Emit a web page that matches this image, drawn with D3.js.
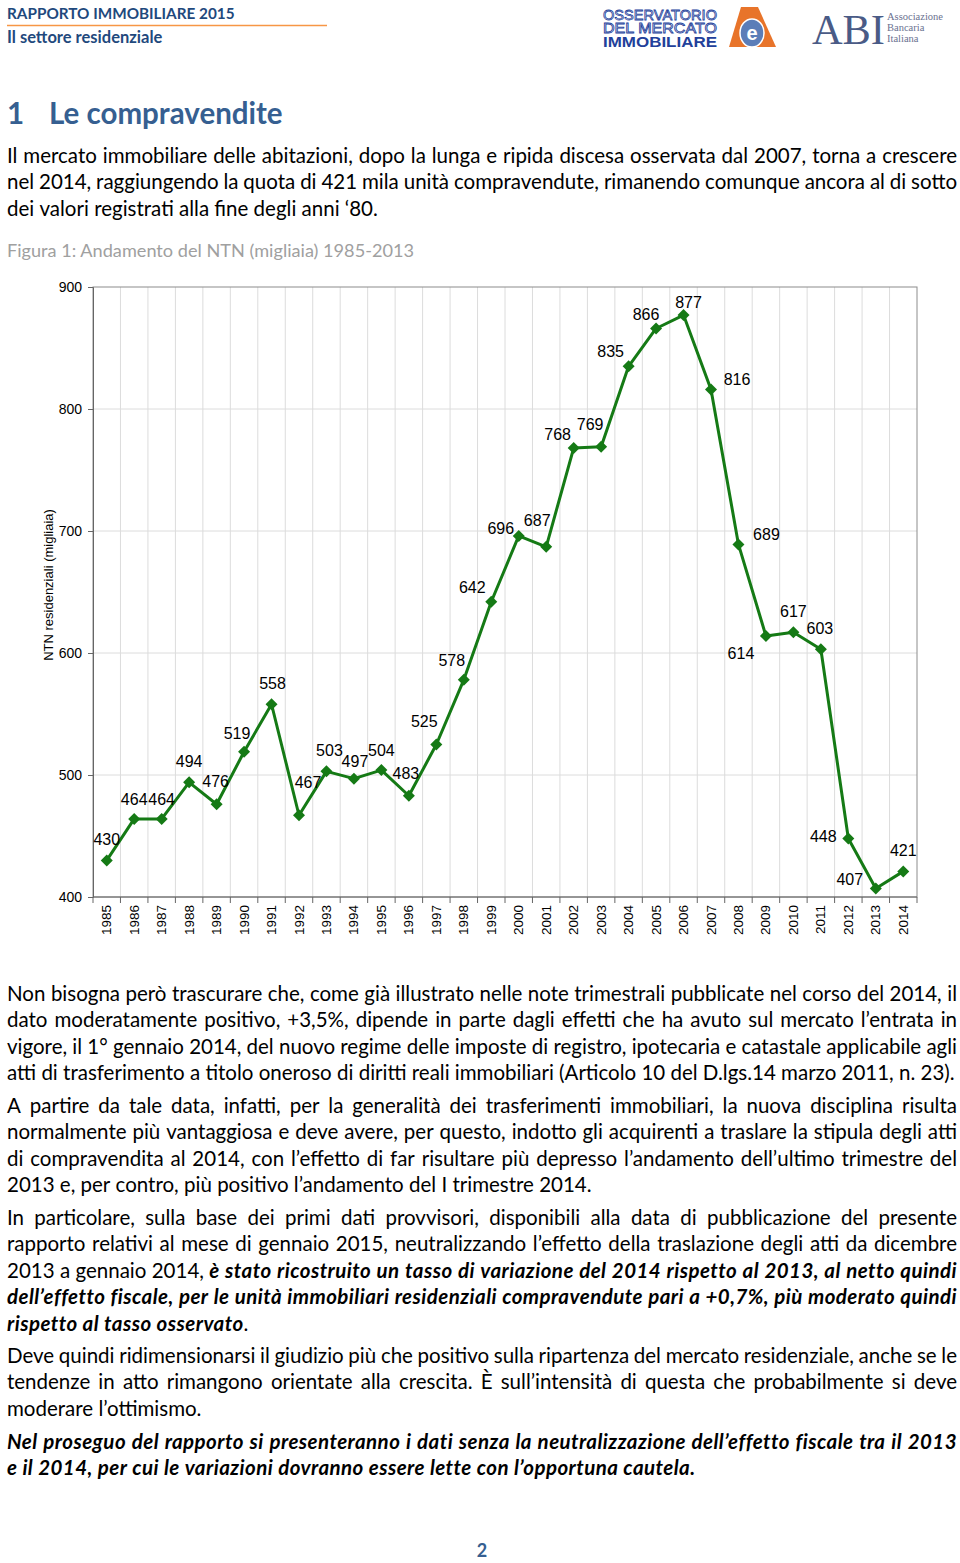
<!DOCTYPE html>
<html><head><meta charset="utf-8">
<script src="https://cdn.jsdelivr.net/npm/d3@7"></script>
<style>
html,body{margin:0;padding:0;background:#fff;}
svg{display:block;}
</style></head>
<body>
<svg id="page" width="960" height="1563"></svg>
<script>
// ---------- DATA ----------
const years = ["1985","1986","1987","1988","1989","1990","1991","1992","1993","1994","1995","1996","1997","1998","1999","2000","2001","2002","2003","2004","2005","2006","2007","2008","2009","2010","2011","2012","2013","2014"];
const ntn = [430,464,464,494,476,519,558,467,503,497,504,483,525,578,642,696,687,768,769,835,866,877,816,689,614,617,603,448,407,421];
const yTicks = [400,500,600,700,800,900];
// label placement (dx, dy from point) – style only
const labelOffsets = [[0,-21],[0,-20],[0,-20],[0,-21],[-1,-23],[-7,-18],[1,-21],[9,-33],[3,-21],[1,-17],[0,-20],[-3,-22],[-12,-23],[-12,-19],[-19,-14],[-18,-7],[-9,-26],[-16,-14],[-11,-22],[-18,-15],[-10,-14],[5,-13],[26,-10],[28,-10],[-25,17],[0,-21],[-1,-21],[-25,-2],[-26,-9],[0,-21]];

const svg = d3.select("#page");
const BLUE = "#1F497D", HBLUE = "#365F91";
const bodyFamily = "Lato, 'Open Sans', sans-serif";

// ---------- HEADER ----------
svg.append("text").attr("x",7).attr("y",19).attr("font-family",bodyFamily).attr("font-weight","bold")
  .attr("font-size",15.3).attr("fill",BLUE).text("RAPPORTO IMMOBILIARE 2015");
svg.append("line").attr("x1",7).attr("x2",327).attr("y1",25.5).attr("y2",25.5).attr("stroke","#F79646").attr("stroke-width",1.5);
svg.append("text").attr("x",7).attr("y",43).attr("font-family",bodyFamily).attr("font-weight","bold")
  .attr("font-size",16.5).attr("fill",BLUE).text("Il settore residenziale");

// logo OMI
const omi = svg.append("g").attr("font-family","'Liberation Sans Narrow','Liberation Sans',Arial,sans-serif").attr("fill","#22409A");
omi.append("text").attr("x",603).attr("y",19.5).attr("font-size",14.5).attr("textLength",114).attr("lengthAdjust","spacingAndGlyphs").attr("fill","none").attr("stroke","#22409A").attr("stroke-width",0.8).text("OSSERVATORIO");
omi.append("text").attr("x",603).attr("y",33).attr("font-size",14.5).attr("textLength",114).attr("lengthAdjust","spacingAndGlyphs").attr("fill","none").attr("stroke","#22409A").attr("stroke-width",0.8).text("DEL MERCATO");
omi.append("text").attr("x",603).attr("y",47).attr("font-size",14.5).attr("font-weight","bold").attr("textLength",114).attr("lengthAdjust","spacingAndGlyphs").text("IMMOBILIARE");
svg.append("path").attr("d","M741,7 L758,7 L776,47 L729,47 Z").attr("fill","#E8742A");
svg.append("ellipse").attr("cx",752).attr("cy",33).attr("rx",12).attr("ry",14).attr("fill","#5B7DB8").attr("stroke","#fff").attr("stroke-width",1.5);
svg.append("text").attr("x",752).attr("y",40).attr("text-anchor","middle").attr("font-family","Liberation Sans,Arial").attr("font-weight","bold").attr("font-size",20).attr("fill","#fff").text("e");
// logo ABI
svg.append("text").attr("x",812).attr("y",44).attr("font-family","'Liberation Serif','DejaVu Serif',serif").attr("font-size",42)
  .attr("textLength",73).attr("lengthAdjust","spacingAndGlyphs").attr("fill","#4A5B86").text("ABI");
const abiSmall = svg.append("g").attr("font-family","'Liberation Serif',serif").attr("font-size",10.5).attr("fill","#6A7190");
abiSmall.append("text").attr("x",887).attr("y",20).text("Associazione");
abiSmall.append("text").attr("x",887).attr("y",31).text("Bancaria");
abiSmall.append("text").attr("x",887).attr("y",42).text("Italiana");

// ---------- TEXT LAYOUT ----------
const measurer = svg.append("text").attr("x",-1000).attr("y",-1000);
function styleAttrs(sel, st, size){
  sel.attr("font-family",bodyFamily).attr("font-size",size)
     .attr("font-weight", st==="bi"?"bold":"normal")
     .attr("font-style", st==="bi"?"italic":"normal")
     .attr("letter-spacing", st==="bi"?"0.45px":"0px");
}
function measure(t, st, size){
  styleAttrs(measurer, st, size); measurer.text(t);
  return measurer.node().getComputedTextLength();
}
const calibLine = "atti di trasferimento a titolo oneroso di diritti reali immobiliari (Articolo 10 del D.lgs.14 marzo 2011, n. 23).";
const BODY = 100*948/measure(calibLine,"r",100);

function layoutLine(segs, x0, x1, baseline, justify, size, fill){
  const chars=[];
  segs.forEach(([st,t])=>{ for(const c of t) chars.push({c,st}); });
  const words=[]; let cur=null;
  chars.forEach(o=>{
    if(o.c===" "){ cur=null; return; }
    if(!cur){ cur=[]; words.push(cur); }
    const last=cur[cur.length-1];
    if(last && last.st===o.st) last.t+=o.c; else cur.push({st:o.st,t:o.c});
  });
  words.forEach(w=>{ w.width=0; w.forEach(r=>{ r.w=measure(r.t,r.st,size); w.width+=r.w; }); });
  const total=d3.sum(words,w=>w.width);
  const st0=words[0][0].st;
  const spaceW = measure("a a",st0,size)-measure("aa",st0,size);
  const gap = justify && words.length>1 ? (x1-x0-total)/(words.length-1) : spaceW;
  let x=x0;
  words.forEach(w=>{
    w.forEach(r=>{
      const tx=svg.append("text").attr("x",x).attr("y",baseline).attr("fill",fill||"#000").text(r.t);
      styleAttrs(tx,r.st,size);
      x+=r.w;
    });
    x+=gap;
  });
}

// heading
svg.append("text").attr("x",7).attr("y",124).attr("font-family",bodyFamily).attr("font-weight","bold").attr("font-size",29.5).attr("fill",HBLUE).text("1");
svg.append("text").attr("x",49).attr("y",124).attr("font-family",bodyFamily).attr("font-weight","bold").attr("font-size",29.5).attr("fill",HBLUE).text("Le compravendite");

const L=7, R=957;
const paragraphs = [
 {y:163, lines:[
  [[["r","Il mercato immobiliare delle abitazioni, dopo la lunga e ripida discesa osservata dal 2007, torna a crescere"]],true],
  [[["r","nel 2014, raggiungendo la quota di 421 mila unità compravendute, rimanendo comunque ancora al di sotto"]],true],
  [[["r","dei valori registrati alla fine degli anni ‘80."]],false]]},
 {y:1001, lines:[
  [[["r","Non bisogna però trascurare che, come già illustrato nelle note trimestrali pubblicate nel corso del 2014, il"]],true],
  [[["r","dato moderatamente positivo, +3,5%, dipende in parte dagli effetti che ha avuto sul mercato l’entrata in"]],true],
  [[["r","vigore, il 1° gennaio 2014, del nuovo regime delle imposte di registro, ipotecaria e catastale applicabile agli"]],true],
  [[["r",calibLine]],false]]},
 {y:1113, lines:[
  [[["r","A partire da tale data, infatti, per la generalità dei trasferimenti immobiliari, la nuova disciplina risulta"]],true],
  [[["r","normalmente più vantaggiosa e deve avere, per questo, indotto gli acquirenti a traslare la stipula degli atti"]],true],
  [[["r","di compravendita al 2014, con l’effetto di far risultare più depresso l’andamento dell’ultimo trimestre del"]],true],
  [[["r","2013 e, per contro, più positivo l’andamento del I trimestre 2014."]],false]]},
 {y:1225, lines:[
  [[["r","In particolare, sulla base dei primi dati provvisori, disponibili alla data di pubblicazione del presente"]],true],
  [[["r","rapporto relativi al mese di gennaio 2015, neutralizzando l’effetto della traslazione degli atti da dicembre"]],true],
  [[["r","2013 a gennaio 2014, "],["bi","è stato ricostruito un tasso di variazione del 2014 rispetto al 2013, al netto quindi"]],true],
  [[["bi","dell’effetto fiscale, per le unità immobiliari residenziali compravendute pari a +0,7%, più moderato quindi"]],true],
  [[["bi","rispetto al tasso osservato"],["r","."]],false]]},
 {y:1363, lines:[
  [[["r","Deve quindi ridimensionarsi il giudizio più che positivo sulla ripartenza del mercato residenziale, anche se le"]],true],
  [[["r","tendenze in atto rimangono orientate alla crescita. È sull’intensità di questa che probabilmente si deve"]],true],
  [[["r","moderare l’ottimismo."]],false]]},
 {y:1449, lines:[
  [[["bi","Nel proseguo del rapporto si presenteranno i dati senza la neutralizzazione dell’effetto fiscale tra il 2013"]],true],
  [[["bi","e il 2014, per cui le variazioni dovranno essere lette con l’opportuna cautela."]],false]]}
];
paragraphs.forEach(p=>{
  p.lines.forEach(([segs,just],i)=>layoutLine(segs,L,R,p.y+i*26.4,just,BODY));
});

// caption
svg.append("text").attr("x",7).attr("y",257).attr("font-family",bodyFamily).attr("font-size",BODY*0.885).attr("fill","#A0A0A0")
  .text("Figura 1: Andamento del NTN (migliaia) 1985-2013");

// page number
svg.append("text").attr("x",482).attr("y",1557).attr("text-anchor","middle").attr("font-family",bodyFamily).attr("font-weight","bold").attr("font-size",18).attr("fill",HBLUE).text("2");

// ---------- CHART ----------
const cf = "'Liberation Sans', Arial, sans-serif";
const x = d3.scaleBand().domain(years).range([93,917]).paddingInner(0).paddingOuter(0);
const y = d3.scaleLinear().domain([400,900]).range([897,287]);
const cx = d => x(d)+x.bandwidth()/2;
const chart = svg.append("g");

// grid
chart.append("g").selectAll("line").data(yTicks.slice(1,-1)).join("line")
  .attr("x1",93).attr("x2",917).attr("y1",d=>y(d)).attr("y2",d=>y(d)).attr("stroke","#DCDCDC").attr("stroke-width",1);
chart.append("g").selectAll("line").data(years.slice(1)).join("line")
  .attr("x1",d=>x(d)).attr("x2",d=>x(d)).attr("y1",287).attr("y2",897).attr("stroke","#DCDCDC").attr("stroke-width",1);
// border
chart.append("rect").attr("x",93).attr("y",287).attr("width",824).attr("height",610).attr("fill","none").attr("stroke","#8C8C8C").attr("stroke-width",1);

// y axis
const yAxis = chart.append("g").attr("transform","translate(93,0)")
  .call(d3.axisLeft(y).tickValues(yTicks).tickSize(5).tickPadding(6).tickFormat(d3.format("d")));
yAxis.select(".domain").attr("stroke","#666");
yAxis.selectAll(".tick line").attr("stroke","#666");
yAxis.selectAll("text").attr("font-family",cf).attr("font-size",14).attr("fill","#000");

// x axis
const xAxisG = chart.append("g");
xAxisG.append("line").attr("x1",93).attr("x2",917).attr("y1",897).attr("y2",897).attr("stroke","#666");
xAxisG.selectAll(".xt").data(years.concat(["end"])).join("line").attr("class","xt")
  .attr("x1",(d,i)=>i<years.length?x(d):x(years[years.length-1])+x.bandwidth())
  .attr("x2",(d,i)=>i<years.length?x(d):x(years[years.length-1])+x.bandwidth())
  .attr("y1",897).attr("y2",903).attr("stroke","#666");
xAxisG.selectAll(".xl").data(years).join("text").attr("class","xl")
  .attr("transform",d=>`translate(${cx(d)+4.5},905) rotate(-90)`)
  .attr("text-anchor","end").attr("font-family",cf).attr("font-size",13.5).attr("fill","#000").text(d=>d);

// y title
chart.append("text").attr("transform","translate(53,585) rotate(-90)").attr("text-anchor","middle")
  .attr("font-family",cf).attr("font-size",13).attr("fill","#000").text("NTN residenziali (migliaia)");

// line
const pts = years.map((d,i)=>({year:d,v:ntn[i],off:labelOffsets[i]}));
chart.append("path").datum(pts).attr("fill","none").attr("stroke","#157A15").attr("stroke-width",3).attr("stroke-linejoin","round")
  .attr("d",d3.line().x(d=>cx(d.year)).y(d=>y(d.v)));
chart.append("g").selectAll("path").data(pts).join("path")
  .attr("d",d=>{const X=cx(d.year),Y=y(d.v),r=6;return `M${X},${Y-r}L${X+r},${Y}L${X},${Y+r}L${X-r},${Y}Z`;})
  .attr("fill","#157A15");
chart.append("g").selectAll("text").data(pts).join("text")
  .attr("x",d=>cx(d.year)+d.off[0]).attr("y",d=>y(d.v)+d.off[1]).attr("dy","0.35em")
  .attr("text-anchor","middle").attr("font-family",cf).attr("font-size",16).attr("fill","#000").text(d=>d.v);

measurer.remove();
</script>
</body></html>
